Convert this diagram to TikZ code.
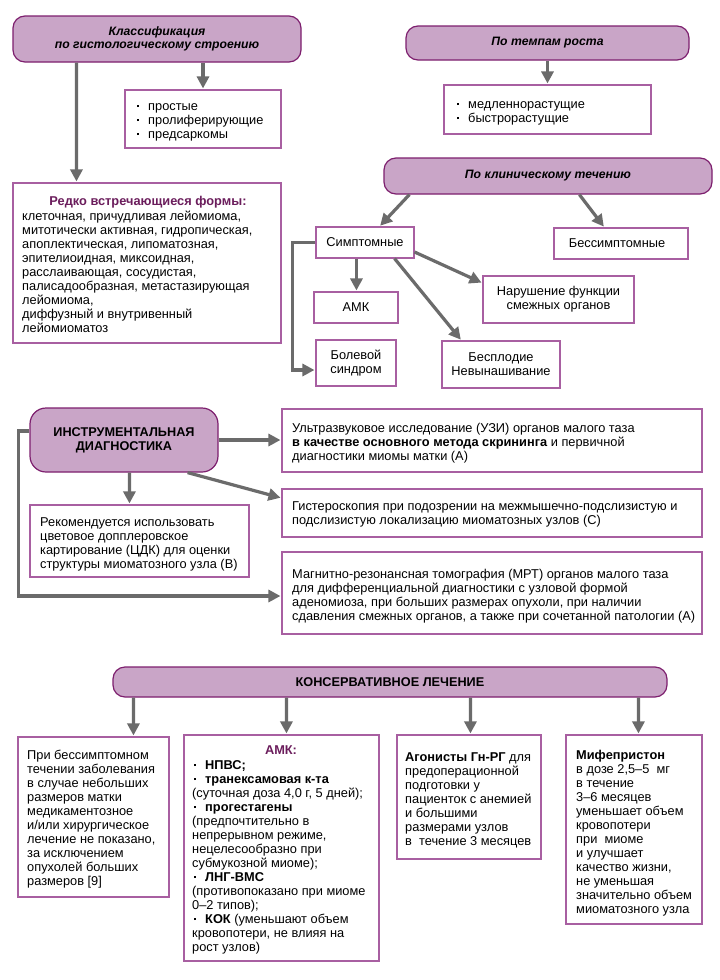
\documentclass[tikz,border=0pt]{standalone}
\usepackage{fontspec}
\setmainfont{Liberation Sans}
\usetikzlibrary{arrows.meta,calc}
\definecolor{hdrfill}{HTML}{C9A5C7}
\definecolor{hdrline}{HTML}{7D1F6E}
\definecolor{boxline}{HTML}{A85FA1}
\definecolor{ttl}{HTML}{6B1D5C}
\definecolor{arr}{HTML}{6B6B6B}
\newcommand\bodyfnt{\fontsize{12.8}{14}\selectfont}
\newcommand\bul{\makebox[13pt][l]{\hspace{2pt}\raisebox{3pt}{\rule{2pt}{2pt}}}}
% \bxat{name}{x1}{y1}{x2}{y2}{style}{text}
\newcommand\bxat[7]{\node[#6, minimum width={(#4-#2)*1pt}, minimum height={(#5-#3)*1pt}] (#1) at ({(#2+#4)/2},{(#3+#5)/2}) {#7};}
\begin{document}
\begin{tikzpicture}[x=1pt,y=-1pt,
 hdr/.style={draw=hdrline, line width=1.2pt, fill=hdrfill, rounded corners=12pt, inner sep=0pt, align=center, font=\fontsize{12.2}{13.5}\selectfont\bfseries\itshape},
 hdrup/.style={hdr, font=\fontsize{12.7}{14}\selectfont\bfseries},
 bx/.style={draw=boxline, line width=1.1pt, fill=white, inner sep=0pt, align=center, font=\bodyfnt},
 txt/.style={inner sep=0pt, align=left, anchor=north west, font=\bodyfnt},
 ar/.style={draw=arr, line width=3.2pt, shorten >=1pt, -{Triangle[length=12pt,width=12pt]}}]
\useasboundingbox (0,0) rectangle (720,980);
\fill[white] (0,0) rectangle (720,980);

% --- histological classification
\bxat{h1}{13}{16}{301}{62}{hdr}{Классификация\\по гистологическому строению}
\bxat{l1}{125}{90}{281}{148}{bx}{}
\node[txt] at (135,100) {\strut\bul простые\\\bul пролиферирующие\\\bul предсаркомы};
\bxat{r1}{13}{183}{281}{343}{bx}{}
\node[inner sep=0pt, font=\bodyfnt\bfseries, text=ttl] (r1t) at (148,202) {Редко встречающиеся формы:};
\node[txt] at (22,210) {\strut клеточная, причудливая лейомиома,\\митотически активная, гидропическая,\\апоплектическая, липоматозная,\\эпителиоидная, миксоидная,\\расслаивающая, сосудистая,\\палисадообразная, метастазирующая\\лейомиома,\\диффузный и внутривенный\\лейомиоматоз};
\draw[ar] (h1.south -| l1.north) -- (l1.north);
\draw[ar] ([xshift=64pt]h1.south west) -- ([xshift=64pt]r1.north west);

% --- growth rate
\bxat{h2}{406}{26}{689}{60}{hdr}{По темпам роста}
\bxat{l2}{444}{85}{651}{134}{bx}{}
\node[txt] at (455,98) {\strut\bul медленнорастущие\\\bul быстрорастущие};
\draw[ar] (h2.south) -- (l2.north);

% --- clinical course
\bxat{h3}{384}{158}{712}{194}{hdr}{По клиническому течению}
\bxat{s1}{316}{227}{414}{258}{bx}{Симптомные}
\bxat{s2}{554}{228}{688}{259}{bx}{Бессимптомные\hspace*{8pt}}
\bxat{amk}{314}{292}{398}{323}{bx}{АМК}
\bxat{bol}{316}{340}{396}{386}{bx}{Болевой\\синдром}
\bxat{nar}{483}{276}{634}{323}{bx}{Нарушение функции\\смежных органов}
\bxat{bes}{442}{341}{560}{388}{bx}{Бесплодие\\Невынашивание}
\draw[ar] ([xshift=26pt]h3.south west) -- ([xshift=64pt]s1.north west);
\draw[ar] ([xshift=196pt]h3.south west) -- ([xshift=51pt]s2.north west);
\draw[ar] ([xshift=41pt]s1.south west) -- ([xshift=43pt]amk.north west);
\draw[ar] (s1.west) -- ++(-23,0) |- ([yshift=-7pt]bol.west);
\draw[ar] ([yshift=-9.5pt]s1.east) -- ([yshift=16.5pt]nar.west);
\draw[ar] ([xshift=-20pt]s1.south east) -- ([xshift=20pt]bes.north west);

% --- instrumental diagnostics
\bxat{d1}{30}{408}{218}{472}{hdrup, rounded corners=16pt}{ИНСТРУМЕНТАЛЬНАЯ\\ДИАГНОСТИКА}
\bxat{u1}{282}{409}{702}{472}{bx}{}
\node[txt] at (292,422) {\strut Ультразвуковое исследование (УЗИ) органов малого таза\\\textbf{в качестве основного метода скрининга} и первичной\\диагностики миомы матки (А)};
\bxat{g1}{282}{489}{702}{537}{bx}{}
\node[txt] at (292,500) {\strut Гистероскопия при подозрении на межмышечно-подслизистую и\\подслизистую локализацию миоматозных узлов (С)};
\bxat{m1}{282}{552}{702}{634}{bx}{}
\node[txt] at (292,568) {\strut Магнитно-резонансная томография (МРТ) органов малого таза\\для дифференциальной диагностики с узловой формой\\аденомиоза, при больших размерах опухоли, при наличии\\сдавления смежных органов, а также при сочетанной патологии (А)};
\bxat{rk}{30}{505}{249}{577}{bx}{}
\node[txt] at (40,516) {\strut Рекомендуется использовать\\цветовое допплеровское\\картирование (ЦДК) для оценки\\структуры миоматозного узла (В)};
\draw[ar] (d1.east) -- (d1.east -| u1.west);
\draw[ar] ([xshift=-31pt]d1.south east) -- ([yshift=15pt]g1.west);
\draw[ar] ([xshift=100pt]d1.south west) -- ([xshift=100pt]rk.north west);
\draw[ar] ([yshift=9pt]d1.west) -- ++(-11,0) |- ([yshift=-3pt]m1.west);

% --- conservative treatment
\bxat{k1}{113}{667}{667}{697}{hdrup}{КОНСЕРВАТИВНОЕ ЛЕЧЕНИЕ}
\bxat{b1}{18}{737}{169}{897}{bx}{}
\node[txt] at (27,749) {\strut При бессимптомном\\течении заболевания\\в случае небольших\\размеров матки\\медикаментозное\\и/или хирургическое\\лечение не показано,\\за исключением\\опухолей больших\\размеров [9]};
\bxat{b2}{184}{735}{379}{961}{bx}{}
\node[inner sep=0pt, font=\bodyfnt\bfseries, text=ttl] (b2t) at (281,750) {АМК:};
\node[txt] at (192,759) {\strut\bul\textbf{НПВС;}\\\bul\textbf{транексамовая к-та}\\(суточная доза 4,0 г, 5 дней);\\\bul\textbf{прогестагены}\\(предпочтительно в\\непрерывном режиме,\\нецелесообразно при\\субмукозной миоме);\\\bul\textbf{ЛНГ-ВМС}\\(противопоказано при миоме\\0–2 типов);\\\bul\textbf{КОК} (уменьшают объем\\кровопотери, не влияя на\\рост узлов)};
\bxat{b3}{397}{735}{541}{859}{bx}{}
\node[txt] at (405,751) {\strut\textbf{Агонисты Гн-РГ} для\\предоперационной\\подготовки у\\пациенток с анемией\\и большими\\размерами узлов\\в\ \ течение 3 месяцев};
\bxat{b4}{566}{735}{702}{924}{bx}{}
\node[txt] at (576,749) {\strut\textbf{Мифепристон}\\в дозе 2,5–5\ \ мг\\в течение\\3–6 месяцев\\уменьшает объем\\кровопотери\\при\ \ миоме\\и улучшает\\качество жизни,\\не уменьшая\\значительно объем\\миоматозного узла};
\draw[ar] ([xshift=21pt]k1.south west) -- ([xshift=116pt]b1.north west);
\draw[ar] ([xshift=174pt]k1.south west) -- ([xshift=103pt]b2.north west);
\draw[ar] ([xshift=358pt]k1.south west) -- ([xshift=74pt]b3.north west);
\draw[ar] ([xshift=526pt]k1.south west) -- ([xshift=73pt]b4.north west);
\end{tikzpicture}
\end{document}
